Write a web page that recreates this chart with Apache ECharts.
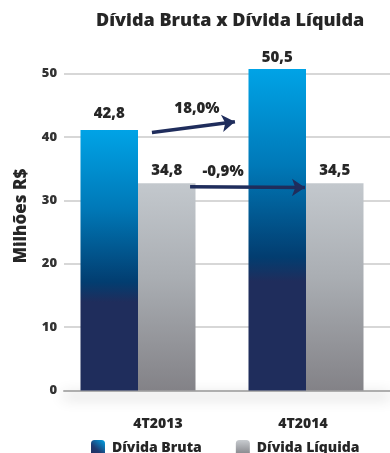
<!DOCTYPE html>
<html>
<head>
<meta charset="utf-8">
<script src="https://cdn.jsdelivr.net/npm/echarts@6/dist/echarts.min.js"></script>
<style>html,body{margin:0;padding:0;background:#fff}#c{width:390px;height:453px}</style>
</head>
<body>
<div id="c"></div>
<script>
// ---- data ----
var categories = ['4T2013', '4T2014'];
var seriesNames = ['Dívida Bruta', 'Dívida Líquida'];
var brutaValues = [41.1, 50.7];
var liquidaValues = [32.7, 32.7];
var brutaLabels = ['42,8', '50,5'];
var liquidaLabels = ['34,8', '34,5'];
var yTicks = [0, 10, 20, 30, 40, 50];
var changeLabels = ['18,0%', '-0,9%'];
// arrow annotations in data units of the hidden value axis (0..2) and y axis
var arrowBruta = [[0.583, 40.7], [1.077, 42.4]];
var arrowLiquida = [[0.81, 32.15], [1.494, 32.0]];
var changePos = [[0.851, 44.5], [1.006, 34.5]];

// ---- styles ----
var FONT = 'Open Sans';
var W = 800;
var TXT = '#262626';
var NAVY = '#1F2D5C';
var brutaDist = [9, 4];
var liquidaDist = [5, 5];

var brutaGrad = new echarts.graphic.LinearGradient(0, 0, 0, 1, [
  {offset: 0, color: '#00A3E6'},
  {offset: 0.3, color: '#0079B8'},
  {offset: 0.585, color: '#023D70'},
  {offset: 0.66, color: '#1F2D5C'},
  {offset: 1, color: '#1F2D5C'}
]);
var liquidaGrad = new echarts.graphic.LinearGradient(0, 0, 0, 1, [
  {offset: 0, color: '#C3C8CD'},
  {offset: 0.45, color: '#AAAEB3'},
  {offset: 1, color: '#838287'}
]);
var brutaLegendGrad = new echarts.graphic.LinearGradient(1, 0, 0, 1, [
  {offset: 0, color: '#00A3E6'},
  {offset: 0.6, color: '#1F3A70'},
  {offset: 1, color: '#1F2D5C'}
]);
var liquidaLegendGrad = new echarts.graphic.LinearGradient(0, 0, 0, 1, [
  {offset: 0, color: '#C8CCD0'},
  {offset: 1, color: '#7E7E83'}
]);

function valueLabel(texts, dists) {
  return function (v, i) {
    return {
      value: v,
      label: {
        show: true, position: 'top', distance: dists[i],
        formatter: texts[i],
        fontFamily: FONT, fontWeight: W, fontSize: 15, color: TXT
      }
    };
  };
}

var chart = echarts.init(document.getElementById('c'), null, {renderer: 'canvas'});
var gTop = 73.5, gBottom = 62.5;
chart.setOption({
  animation: false,
  backgroundColor: '#fff',
  title: {
    text: 'Dívida Bruta x Dívida Líquida',
    left: 91, top: 7,
    textStyle: {fontFamily: FONT, fontWeight: W, fontSize: 18, color: TXT}
  },
  legend: {
    left: 86, top: 435, itemWidth: 14, itemHeight: 16, itemGap: 34,
    selectedMode: false,
    data: [
      {name: seriesNames[0], itemStyle: {color: brutaLegendGrad}},
      {name: seriesNames[1], itemStyle: {color: liquidaLegendGrad}}
    ],
    textStyle: {fontFamily: FONT, fontWeight: W, fontSize: 14, color: TXT, padding: [0, 0, 0, 2]}
  },
  grid: [
    {left: 64, right: 0, top: gTop, bottom: gBottom},
    {left: 54, right: 0, top: gTop, bottom: gBottom}
  ],
  xAxis: [
    {
      gridIndex: 0, type: 'value', min: 0, max: 1,
      axisLine: {show: true, lineStyle: {color: '#aeaeae', width: 2,
        shadowColor: 'rgba(0,0,0,0.45)', shadowBlur: 14, shadowOffsetY: 5}},
      axisTick: {show: false}, axisLabel: {show: false}, splitLine: {show: false}
    },
    {
      gridIndex: 1, type: 'category', data: categories,
      axisLine: {show: false}, axisTick: {show: false},
      axisLabel: {
        margin: 27,
        formatter: function (v, i) { return (i === 0 ? '{a|' : '{b|') + v + '}'; },
        rich: {
          a: {fontFamily: FONT, fontWeight: W, fontSize: 14, color: TXT, padding: [0, 0, 0, 40]},
          b: {fontFamily: FONT, fontWeight: W, fontSize: 14, color: TXT, padding: [0, 6, 0, 0]}
        }
      }
    },
    {gridIndex: 1, type: 'value', min: 0, max: 2, show: false}
  ],
  yAxis: [
    {
      gridIndex: 0, type: 'value', min: yTicks[0], max: yTicks[yTicks.length - 1], interval: 10,
      name: 'Milhões R$', nameLocation: 'middle', nameGap: 34, nameRotate: 90,
      nameTextStyle: {fontFamily: FONT, fontWeight: W, fontSize: 17, color: TXT, padding: [0, 0, 0, 32]},
      axisLine: {show: false}, axisTick: {show: false},
      axisLabel: {margin: 7, fontFamily: FONT, fontWeight: W, fontSize: 13, color: '#333'},
      splitLine: {lineStyle: {color: '#cacaca', width: 1.5}}
    },
    {gridIndex: 1, type: 'value', min: 0, max: 50, show: false}
  ],
  series: [
    {
      name: seriesNames[0], type: 'bar', xAxisIndex: 1, yAxisIndex: 1,
      barWidth: 57.5, barGap: '0%', clip: false,
      itemStyle: {color: brutaGrad},
      data: brutaValues.map(valueLabel(brutaLabels, brutaDist))
    },
    {
      name: seriesNames[1], type: 'bar', xAxisIndex: 1, yAxisIndex: 1,
      barWidth: 57.5, barGap: '0%', clip: false,
      itemStyle: {color: liquidaGrad},
      data: liquidaValues.map(valueLabel(liquidaLabels, liquidaDist))
    },
    {
      type: 'lines', coordinateSystem: 'cartesian2d', xAxisIndex: 2, yAxisIndex: 1,
      z: 5, symbol: ['none', 'arrow'], symbolSize: 13,
      lineStyle: {color: NAVY, width: 3.5, opacity: 1, curveness: 0},
      data: [{coords: arrowBruta}, {coords: arrowLiquida}]
    },
    {
      type: 'scatter', xAxisIndex: 2, yAxisIndex: 1, symbolSize: 0, z: 6,
      itemStyle: {opacity: 1, color: 'rgba(0,0,0,0)'},
      label: {
        show: true, position: 'inside', opacity: 1,
        formatter: function (p) { return p.name; },
        fontFamily: FONT, fontWeight: W, fontSize: 15, color: TXT,
        textBorderWidth: 0
      },
      data: changePos.map(function (c, i) { return {name: changeLabels[i], value: c}; })
    }
  ]
});
</script>
</body>
</html>
